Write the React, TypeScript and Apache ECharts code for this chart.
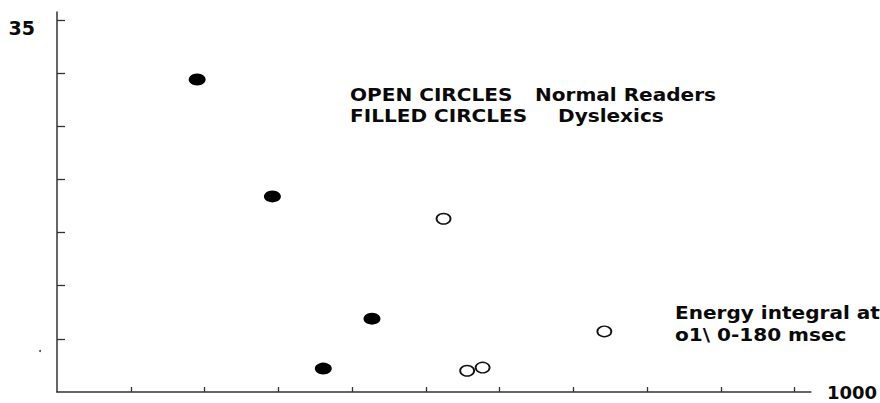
import React, { useEffect, useRef } from "react";
import * as echarts from "echarts";

// Data
const dyslexicsX = [190, 292, 427, 361];
const dyslexicsY = [29.4, 18.4, 6.9, 2.2];
const normalX = [524, 556, 577, 742];
const normalY = [16.3, 2.0, 2.3, 5.7];

const xTickValues = [100, 200, 300, 400, 500, 600, 700, 800, 900, 1000];
const yTickValues = [5, 10, 15, 20, 25, 30, 35];
const yLabelValues = [35];
const xEndLabel = "1000";

const legendLeft = ["OPEN CIRCLES", "FILLED CIRCLES"];
const legendRight = ["Normal Readers", "Dyslexics"];
const noteLines = ["Energy integral at", "o1\\ 0-180 msec"];

const FONT = "DejaVu Sans";
const INK = "#0a0a0a";
const AXIS = "#333";

export default function App() {
  const ref = useRef<HTMLDivElement>(null);
  useEffect(() => {
    if (!ref.current) return;
    const chart = echarts.init(ref.current, undefined, { renderer: "svg" });
    const txt = (text: string, x: number, y: number) => ({
      type: "text",
      x,
      y,
      scaleX: 1.18,
      style: {
        text,
        x: 0,
        y: 0,
        fill: INK,
        font: `bold 17px "${FONT}"`,
        verticalAlign: "middle",
        align: "left",
      },
    });
    chart.setOption({
      animation: false,
      backgroundColor: "#fff",
      grid: { left: 57, right: 67, top: 12, bottom: 11, containLabel: false },
      xAxis: {
        type: "value",
        min: 0,
        max: 1022,
        splitLine: { show: false },
        axisLine: { show: true, lineStyle: { color: AXIS, width: 1.5 } },
        axisTick: {
          show: true,
          inside: true,
          length: 5,
          customValues: xTickValues,
          lineStyle: { color: AXIS, width: 1.3 },
        },
        axisLabel: { show: false },
        name: xEndLabel,
        nameLocation: "end",
        nameGap: 16,
        nameTextStyle: {
          fontFamily: FONT,
          fontWeight: "bold",
          fontSize: 18,
          color: INK,
          verticalAlign: "middle",
          padding: [9, 0, 0, 0],
        },
      },
      yAxis: {
        type: "value",
        min: 0,
        max: 35.75,
        splitLine: { show: false },
        axisLine: { show: true, lineStyle: { color: AXIS, width: 1.5 } },
        axisTick: {
          show: true,
          inside: true,
          length: 8,
          customValues: yTickValues,
          lineStyle: { color: AXIS, width: 1.3 },
        },
        axisLabel: {
          show: true,
          customValues: yLabelValues,
          margin: 22,
          fontFamily: FONT,
          fontWeight: "bold",
          fontSize: 19,
          color: INK,
          verticalAlign: "top",
          lineHeight: 17,
        },
      },
      series: [
        {
          name: "Dyslexics",
          type: "scatter",
          data: dyslexicsX.map((x, i) => [x, dyslexicsY[i]]),
          symbol: "circle",
          symbolSize: [17, 12],
          itemStyle: { color: "#000", opacity: 1 },
        },
        {
          name: "Normal Readers",
          type: "scatter",
          data: normalX.map((x, i) => [x, normalY[i]]),
          symbol: "circle",
          symbolSize: [14, 10.5],
          itemStyle: { color: "#fff", borderColor: "#111", borderWidth: 1.6, opacity: 1 },
        },
      ],
      graphic: [
        txt(legendLeft[0], 350, 95),
        txt(legendRight[0], 535, 95),
        txt(legendLeft[1], 350, 116),
        txt(legendRight[1], 558, 116),
        txt(noteLines[0], 675, 313),
        txt(noteLines[1], 675, 335),
        { type: "circle", shape: { cx: 40, cy: 351, r: 1 }, style: { fill: "#444" } },
      ],
    });
    return () => chart.dispose();
  }, []);
  return (
    <div
      ref={ref}
      style={{ position: "fixed", left: 0, top: 0, width: 880, height: 403 }}
    />
  );
}
